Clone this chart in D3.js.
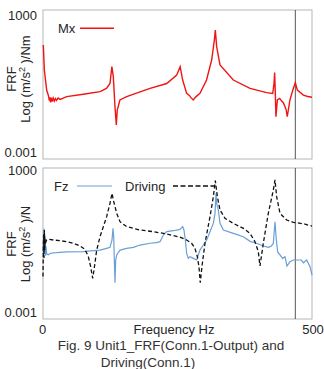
<!DOCTYPE html>
<html>
<head>
<meta charset="utf-8">
<script src="https://cdn.jsdelivr.net/npm/d3@7"></script>
<style>
  body { margin: 0; background: #fff; }
  svg { display: block; font-family: "Liberation Sans", Arial, sans-serif; }
</style>
</head>
<body>
<div id="chart"></div>
<script>
// x ticks / y ticks
const freqTicks = [0, 500];
const yTicks = [0.001, 1000];
const markerFreq = 469;

// Mx (top panel) [Hz, FRF]
const mxData = [[0.6,48.5],[2.5,3.9],[6.8,0.52],[10,0.3],[11.8,0.18],[13,0.25],[14,0.15],[15.5,0.24],[17,0.16],[19,0.23],[21,0.17],[23,0.22],[25,0.18],[28,0.23],[32,0.2],[44,0.265],[75,0.336],[106,0.44],[118,0.61],
  [124.5,1.0],[128,5.5],[130.7,2.0],[133.8,0.097],[136.3,0.0152],[138,0.069],[143,0.19],[155.5,0.265],[199,0.61],[230,1.0],
  [248.5,2.36],[255,5.5],[259.6,1.42],[267,0.37],[272,0.3],[275,0.24],[279.4,0.19],[284,0.26],[291.8,0.37],[304,1.42],[313.5,10.7],
  [318.5,80],[320.3,220],[322.8,41],[329,6.5],[353.8,1.42],[384.8,0.61],[415.7,0.40],[427,0.37],[429.4,1.0],[430.6,3.0],
  [431.8,0.37],[433,0.035],[435.6,0.19],[440,0.22],[443.6,0.17],[447,0.14],[449.8,0.097],[452,0.07],[454,0.035],[459,0.19],[465.3,0.61],
  [469,1.09],[472.7,0.52],[484,0.31],[492,0.27],[500,0.25]];

// Fz (bottom panel)
const fzData = [[0,0.37],[0.6,1.0],[1.2,0.25],[1.9,3.5],[2.5,0.4],[3.1,2.0],[3.7,0.3],[4.3,1.6],[5,0.25],[5.6,0.6],[6.8,0.3],
  [9.9,0.27],[13,0.31],[19.2,0.33],[25.4,0.335],[44,0.36],[75,0.37],[93.6,0.41],[106,0.43],[118.3,0.51],[124.5,0.56],
  [128.3,1.14],[130.1,3.5],[131.4,1.57],[132.6,0.164],[133.8,0.0183],[135.1,0.164],[137,0.27],[143.2,0.43],[155.5,0.51],
  [168,0.56],[180.3,0.70],[199,0.83],[211.3,0.88],[217.5,0.97],[223.7,1.85],[229.9,2.55],[242.3,2.8],[254.6,3.2],
  [259.6,4.15],[262,3.0],[264.6,1.14],[267,0.31],[270.1,0.193],[273.2,0.227],[279.4,0.193],[285.6,0.164],[288.7,0.27],
  [291.8,0.43],[298,0.70],[304.2,1.14],[310.4,2.55],[316.6,5.7],[319.7,15],[321.6,104],[322.8,39.7],[325.9,20.8],
  [329,5.7],[335.2,3.0],[353.8,2.17],[372.4,1.57],[385,1.0],[397,0.83],[409.5,0.64],[419,0.56],[424.6,0.64],[428.1,0.83],
  [431.2,6.7],[433.7,1.14],[436.2,0.36],[445.5,0.193],[449.8,0.227],[453.5,0.092],[459.1,0.14],[465.3,0.164],
  [474.6,0.164],[480,0.164],[483.9,0.125],[490.1,0.164],[496.3,0.086],[500,0.0385]];

// Driving
const drvData = [[0,0.033],[0.6,0.43],[1.2,2.0],[1.9,0.2],[2.5,3.0],[3.1,0.4],[3.7,1.3],[5,0.9],[6.8,1.14],[9.9,1.22],
  [19.2,1.14],[31.6,1.07],[44,0.97],[56.4,0.83],[68.8,0.64],[78,0.46],[84.3,0.227],[88.6,0.086],[92.3,0.028],[94.8,0.0625],
  [99.8,0.43],[106,1.57],[118.3,10.9],[124.5,39.7],[128.3,104],[130.7,54.8],[137,15.1],[143.2,6.7],[155.5,4.15],
  [180.3,3.0],[205,2.55],[229.9,2.04],[254.6,1.5],[267,1.14],[276.3,0.83],[282.5,0.51],[286.9,0.227],[289.9,0.086],
  [292.3,0.0183],[295.4,0.086],[301.1,0.83],[310.4,10.9],[316.6,75.7],[320.3,356],[324.1,75.7],[329,20.8],[338.3,9.3],
  [353.8,5.7],[372.4,3.5],[384.8,2.17],[394,0.97],[400.2,0.37],[403.3,0.092],[409.5,0.83],[418.8,15.1],[428.1,144],
  [431.2,383],[434.3,75.7],[440.5,15.1],[452.9,7.9],[465.3,6.3],[483.9,5.5],[500,4.4]];

const W = 324, H = 369;
const left = 43, right = 312;
const textColor = "#262626";
const red = "#f01414", blue = "#6a9fd6";

const svg = d3.select("#chart").append("svg").attr("width", W).attr("height", H);

const x = d3.scaleLinear().domain([0, 500]).range([left, right]);
const yTop = d3.scaleLog().domain([0.001, 1000]).range([152, 15]);
const yBot = d3.scaleLog().domain([0.001, 1000]).range([312.7, 170]);

function panel(y, boxTop, boxBot){
  svg.append("rect").attr("x", left).attr("y", boxTop).attr("width", right - left).attr("height", boxBot - boxTop)
    .attr("fill", "none").attr("stroke", "#b5b5b5").attr("stroke-width", 1);

  const ax = svg.append("g").attr("transform", "translate(" + left + ",0)")
    .call(d3.axisLeft(y).tickValues(yTicks).tickSize(0).tickPadding(6).tickFormat(d => d >= 1 ? "1000" : "0.001"));
  ax.select(".domain").remove();
  ax.selectAll("text").style("font-size", "13px").attr("fill", textColor);

  svg.append("line").attr("x1", x(markerFreq)).attr("x2", x(markerFreq)).attr("y1", boxTop).attr("y2", boxBot)
    .attr("stroke", "#555").attr("stroke-width", 1);
}

function yLabel(cy, unit){
  svg.append("text").attr("transform", "translate(15.5," + cy + ")rotate(-90)").attr("text-anchor", "middle")
    .style("font-size", "13px").attr("fill", textColor).text("FRF");
  const t = svg.append("text").attr("transform", "translate(30," + cy + ")rotate(-90)").attr("text-anchor", "middle")
    .style("font-size", "13px").attr("fill", textColor);
  t.append("tspan").text("Log (m/s");
  t.append("tspan").attr("dy", -5).style("font-size", "9px").text("2");
  t.append("tspan").attr("dy", 5).text(" )/" + unit);
}

panel(yTop, 10, 159);
panel(yBot, 168, 319);

const lineTop = d3.line().x(d => x(d[0])).y(d => yTop(d[1]));
const lineBot = d3.line().x(d => x(d[0])).y(d => yBot(d[1]));

svg.append("path").datum(mxData).attr("d", lineTop).attr("fill", "none").attr("stroke", red).attr("stroke-width", 1.4);
svg.append("path").datum(fzData).attr("d", lineBot).attr("fill", "none").attr("stroke", blue).attr("stroke-width", 1.2);
svg.append("path").datum(drvData).attr("d", lineBot).attr("fill", "none").attr("stroke", "#111").attr("stroke-width", 1.3)
  .attr("stroke-dasharray", "4,2.5");

yLabel(79, "Nm");
yLabel(244, "N");

// legends
svg.append("text").attr("x", 58).attr("y", 32.5).style("font-size", "13px").attr("fill", textColor).text("Mx");
svg.append("line").attr("x1", 80).attr("x2", 114).attr("y1", 28.3).attr("y2", 28.3).attr("stroke", red).attr("stroke-width", 1.4);

svg.append("text").attr("x", 54).attr("y", 190.5).style("font-size", "13px").attr("fill", textColor).text("Fz");
svg.append("line").attr("x1", 77).attr("x2", 112).attr("y1", 186).attr("y2", 186).attr("stroke", blue).attr("stroke-width", 1.2);
svg.append("text").attr("x", 125).attr("y", 190.5).style("font-size", "13px").attr("fill", textColor).text("Driving");
svg.append("line").attr("x1", 173).attr("x2", 215).attr("y1", 186).attr("y2", 186).attr("stroke", "#111").attr("stroke-width", 1.3)
  .attr("stroke-dasharray", "5,2.5");

// x axis
const xa = svg.append("g").attr("transform", "translate(0,319)")
  .call(d3.axisBottom(x).tickValues(freqTicks).tickSize(0).tickPadding(5.5));
xa.select(".domain").remove();
xa.selectAll("text").style("font-size", "13px").attr("fill", textColor).attr("dx", d => d === 500 ? 0.5 : -1);

svg.append("text").attr("x", 174).attr("y", 333.5).attr("text-anchor", "middle").style("font-size", "13px")
  .attr("fill", textColor).text("Frequency Hz");

svg.append("text").attr("x", 171).attr("y", 350).attr("text-anchor", "middle").style("font-size", "13.5px")
  .attr("fill", "#333").text("Fig. 9 Unit1_FRF(Conn.1-Output) and");
svg.append("text").attr("x", 148).attr("y", 367).attr("text-anchor", "middle")
  .style("font-size", "13.5px").attr("fill", "#333").text("Driving(Conn.1)");
</script>
</body>
</html>
